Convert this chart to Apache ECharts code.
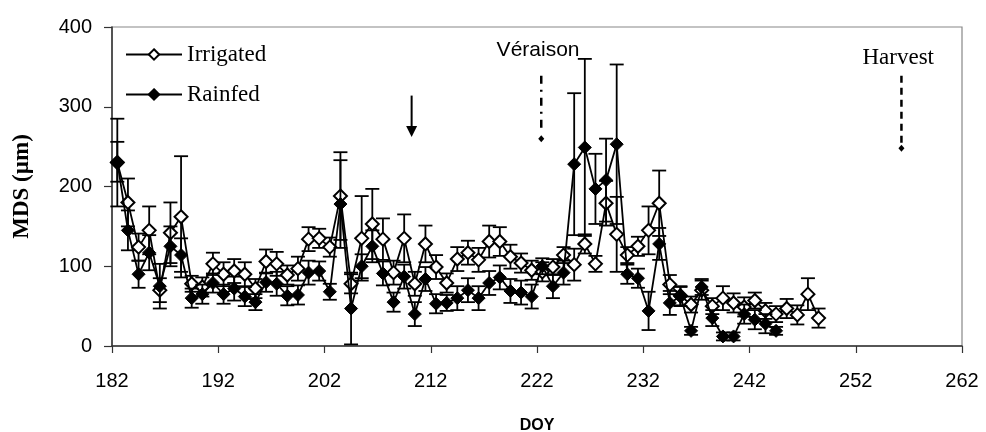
<!DOCTYPE html>
<html><head><meta charset="utf-8">
<script src="https://cdn.jsdelivr.net/npm/echarts@6/dist/echarts.min.js"></script>
<style>html,body{margin:0;padding:0;background:#fff}#c{width:986px;height:432px}</style>
</head><body><div id="c"></div>
<script>
// ---- data ----
const doy = [182.5,183.5,184.5,185.5,186.5,187.5,188.5,189.5,190.5,191.5,
  192.5,193.5,194.5,195.5,196.5,197.5,198.5,199.5,200.5,201.5,
  202.5,203.5,204.5,205.5,206.5,207.5,208.5,209.5,210.5,211.5,
  212.5,213.5,214.5,215.5,216.5,217.5,218.5,219.5,220.5,221.5,
  222.5,223.5,224.5,225.5,226.5,227.5,228.5,229.5,230.5,231.5,
  232.5,233.5,234.5,235.5,236.5,237.5,238.5,239.5,240.5,241.5,
  242.5,243.5,244.5,245.5,246.5,247.5,248.5];
const irrigated = [230,180,124,145,70,142,162,78,74,103,
  90,94,90,72,106,103,89,97,134,135,
  124,188,78,135,153,134,92,135,78,128,
  99,79,109,117,108,131,131,112,104,95,
  93,99,114,102,128,103,179,140,114,125,
  145,179,77,63,52,70,50,60,54,49,
  57,44,40,47,39,65,35];
const irrigatedErr = [55,30,17,30,15,38,76,10,12,14,
  15,15,15,12,15,15,12,15,15,12,
  12,55,12,53,44,26,15,30,15,23,
  15,12,15,15,15,20,18,15,12,12,
  12,10,10,20,12,10,28,47,10,12,
  30,41,12,12,10,12,10,15,12,12,
  10,10,10,12,12,20,12];
const rainfed = [231,145,90,117,75,125,114,60,65,79,
  65,72,62,55,80,78,63,64,92,94,
  68,178,47,100,125,91,55,87,40,84,
  53,54,60,70,60,79,86,69,67,62,
  100,75,92,228,249,197,208,253,90,85,
  44,128,54,62,19,74,35,12,12,40,
  33,28,19];
const rainfedErr = [25,25,17,22,28,25,21,12,12,12,
  12,15,12,10,12,15,12,12,15,12,
  10,55,45,15,20,15,12,15,15,15,
  12,10,15,15,15,15,15,15,15,15,
  10,15,15,89,111,44,52,100,12,12,
  24,20,15,12,5,10,10,5,5,12,
  12,12,5];
const seriesNames = ['Irrigated','Rainfed'];
const xTickLabels = [182,192,202,212,222,232,242,252,262];
const yTickLabels = [0,100,200,300,400];
// annotations: [doy, from value, to value]
const arrowMark = [210.2, 314, 262];
const veraisonMark = [222.4, 339, 260];
const harvestMark = [256.3, 339, 248];
const veraisonLabel = ['Véraison', 222.1, 371];
const harvestLabel = ['Harvest', 256, 361];

// ---- chart ----
const chart = echarts.init(document.getElementById('c'));
const pts = (ys) => ys.map((v,i)=>[doy[i], v]);
const errs = (ys, es) => ys.map((v,i)=>[doy[i], v-es[i], v+es[i]]);
const SANS = '"Liberation Sans", Arial, sans-serif';
const SERIF = '"Liberation Serif", "Times New Roman", serif';

function errRender(params, api){
  const x = api.value(0), lo = api.value(1), hi = api.value(2);
  const a = api.coord([x, lo]), b = api.coord([x, hi]);
  const w = 7;
  const st = {stroke:'#000', lineWidth:1.8, fill:null};
  return {type:'group', children:[
    {type:'line', shape:{x1:a[0],y1:a[1],x2:b[0],y2:b[1]}, style:st},
    {type:'line', shape:{x1:a[0]-w,y1:a[1],x2:a[0]+w,y2:a[1]}, style:st},
    {type:'line', shape:{x1:b[0]-w,y1:b[1],x2:b[0]+w,y2:b[1]}, style:st}
  ]};
}

function annRender(params, api){
  const kind = params.dataIndex;
  const x = api.value(0), y1 = api.value(1), y2 = api.value(2);
  const a = api.coord([x, y1]), b = api.coord([x, y2]);
  const ch = [];
  if (kind === 0) {
    ch.push({type:'line', shape:{x1:a[0],y1:a[1],x2:b[0],y2:b[1]-9}, style:{stroke:'#000', lineWidth:2}});
    ch.push({type:'polygon', shape:{points:[[b[0]-5.5,b[1]-11],[b[0]+5.5,b[1]-11],[b[0],b[1]]]}, style:{fill:'#000'}});
  } else {
    const dash = kind === 1 ? [8,6,2,6] : [7,5];
    ch.push({type:'line', shape:{x1:a[0],y1:a[1],x2:b[0],y2:b[1]-5}, style:{stroke:'#000', lineWidth:2.5, lineDash:dash}});
    ch.push({type:'polygon', shape:{points:[[b[0],b[1]-3.5],[b[0]+3,b[1]],[b[0],b[1]+3.5],[b[0]-3,b[1]]]}, style:{fill:'#000'}});
  }
  return {type:'group', children:ch};
}

function labelRender(params, api){
  const p = api.coord([api.value(1), api.value(2)]);
  const isV = params.dataIndex === 0;
  return {type:'text', x:p[0], y:p[1], style:{
    text: api.value(0), fill:'#000', align:'center', verticalAlign:'middle',
    font: isV ? '21px ' + SANS : '23px ' + SERIF
  }};
}

chart.setOption({
  animation:false,
  backgroundColor:'#fff',
  grid:{left:112, right:24, top:27, bottom:86, show:true, borderColor:'#888', borderWidth:1.2,
    outerBoundsMode:'none', containLabel:false},
  legend:{
    left:120, top:38, orient:'vertical', itemWidth:56, itemHeight:13, itemGap:17,
    data:seriesNames,
    textStyle:{fontFamily:SERIF, fontSize:23, color:'#000'}
  },
  xAxis:{
    type:'value', min:xTickLabels[0], max:xTickLabels[xTickLabels.length-1], interval:10,
    name:'DOY', nameLocation:'middle', nameGap:72,
    nameTextStyle:{fontFamily:SANS, fontWeight:'bold', fontSize:16, color:'#000'},
    axisLine:{show:true, onZero:false, lineStyle:{color:'#333', width:1.5}},
    axisTick:{show:true, inside:false, length:7, lineStyle:{color:'#333', width:1.2}},
    axisLabel:{margin:25, fontFamily:SANS, fontSize:20, color:'#000'},
    splitLine:{show:false}
  },
  yAxis:{
    type:'value', min:yTickLabels[0], max:yTickLabels[yTickLabels.length-1], interval:100,
    name:'MDS (µm)', nameLocation:'middle', nameGap:78,
    nameTextStyle:{fontFamily:SERIF, fontWeight:'bold', fontSize:23, color:'#000'},
    axisLine:{show:true, lineStyle:{color:'#333', width:1.5}},
    axisTick:{show:true, inside:false, length:8, lineStyle:{color:'#333', width:1.2}},
    axisLabel:{margin:20, fontFamily:SANS, fontSize:20, color:'#000'},
    splitLine:{show:false}
  },
  series:[
    {type:'custom', name:'irrErr', renderItem:errRender, data:errs(irrigated, irrigatedErr), encode:{x:0,y:[1,2]}, z:2, silent:true},
    {type:'line', name:seriesNames[0], data:pts(irrigated), symbol:'diamond', symbolSize:13,
      lineStyle:{color:'#000', width:1.8}, itemStyle:{color:'#fff', borderColor:'#000', borderWidth:2}, z:3},
    {type:'custom', name:'rainErr', renderItem:errRender, data:errs(rainfed, rainfedErr), encode:{x:0,y:[1,2]}, z:4, silent:true},
    {type:'line', name:seriesNames[1], data:pts(rainfed), symbol:'diamond', symbolSize:13,
      lineStyle:{color:'#000', width:1.8}, itemStyle:{color:'#000', borderColor:'#000', borderWidth:1}, z:5},
    {type:'custom', name:'ann', renderItem:annRender, data:[arrowMark, veraisonMark, harvestMark], encode:{x:0,y:[1,2]}, z:6, silent:true},
    {type:'custom', name:'lbl', renderItem:labelRender, data:[veraisonLabel, harvestLabel],
      dimensions:['t','x','y'], encode:{x:1,y:2}, z:6, silent:true}
  ]
});
</script></body></html>
